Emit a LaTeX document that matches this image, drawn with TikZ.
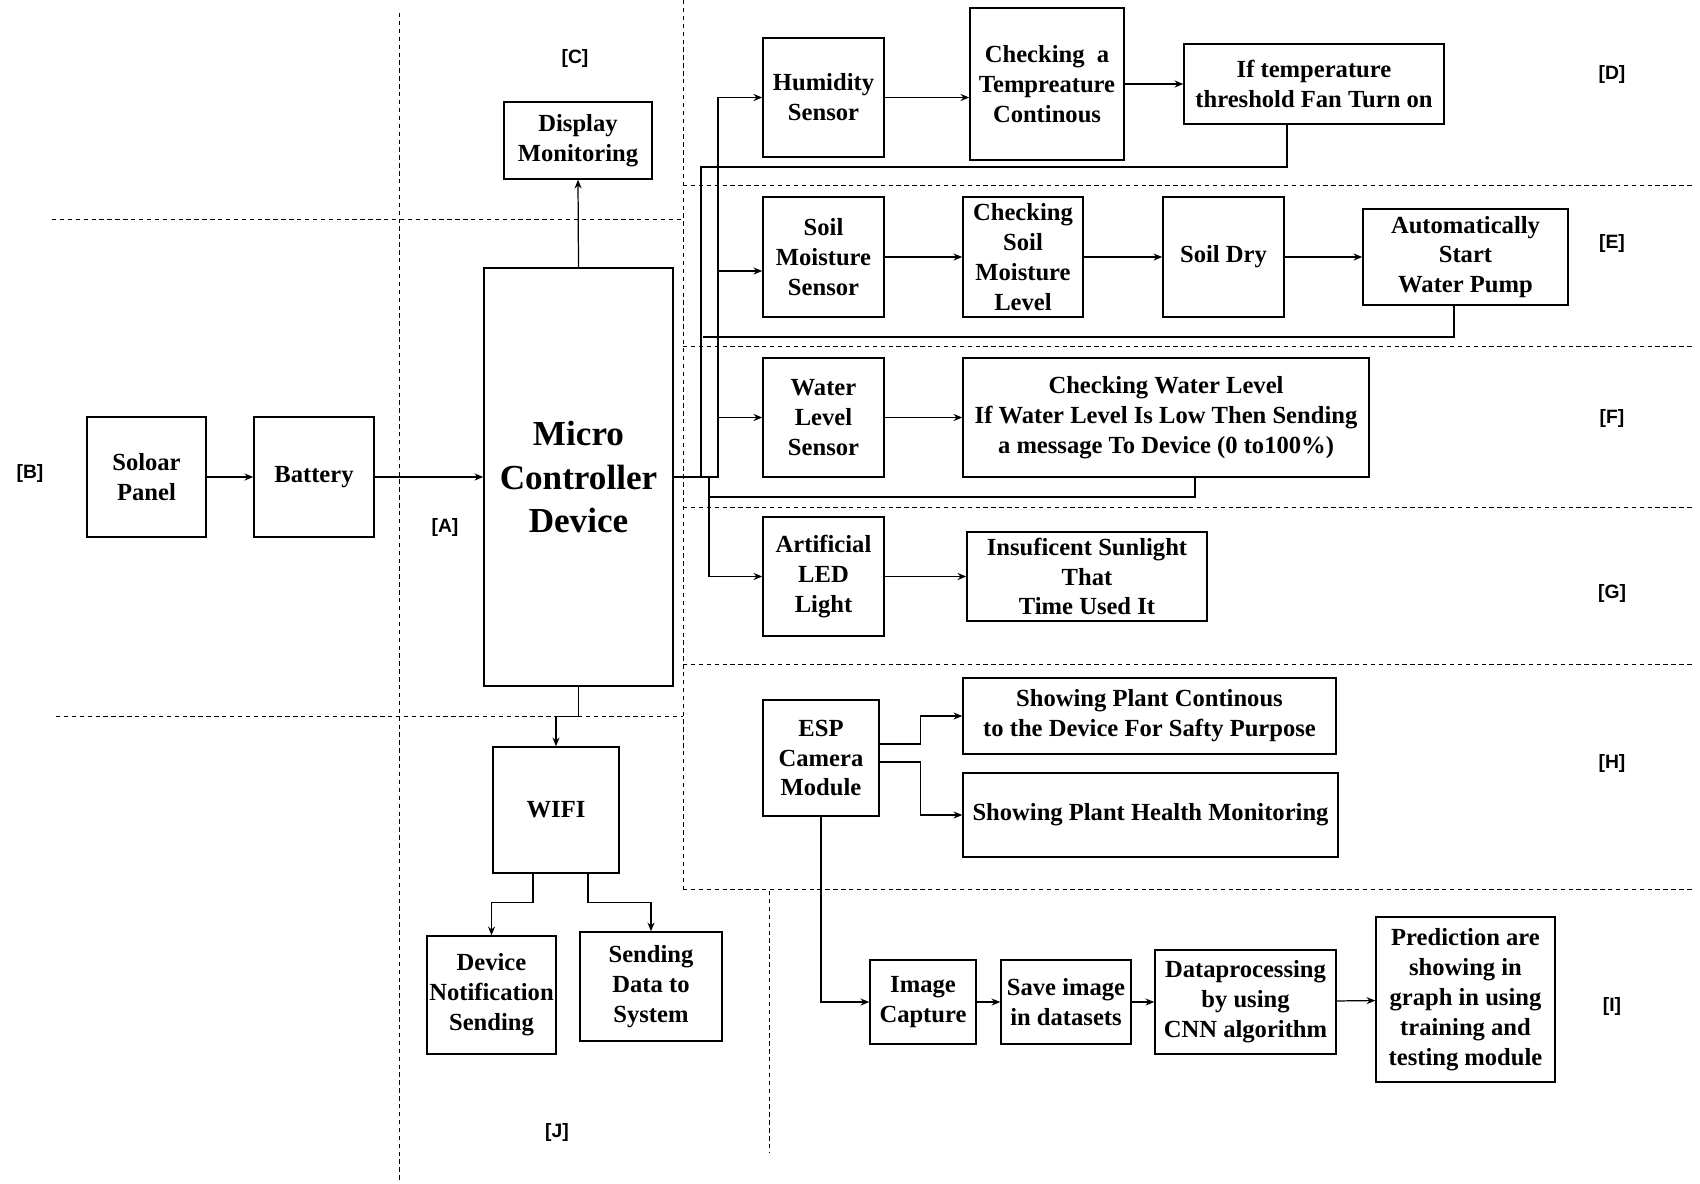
\documentclass[tikz,border=0pt]{standalone}
\usepackage{fontspec}
\setmainfont{Liberation Serif}
\newfontfamily\labfont{Liberation Sans}
\usetikzlibrary{arrows.meta}

\begin{document}
\begin{tikzpicture}[x=0.02cm, y=-0.02cm, >={Stealth[length=5pt,width=4pt]},
  blk/.style={draw, rectangle, line width=0.8pt, align=center, inner sep=1pt,
    font=\fontsize{14}{17}\selectfont\bfseries},
  lnk/.style={line width=0.7pt},
  sep/.style={line width=0.5pt, dash pattern=on 2.5pt off 2pt},
  tag/.style={font=\labfont\fontsize{11}{13}\selectfont\bfseries}]
\useasboundingbox (0,0) rectangle (1700,1183);

% Section separators
\draw[sep] (399,13) -- (399,1180);
\draw[sep] (683,0) -- (683,889);
\draw[sep] (769,891) -- (769,1153);
\draw[sep] (52,219) -- (683,219);
\draw[sep] (56,716) -- (683,716);
\foreach \yy in {185,346,507,664,889}
  \draw[sep] (683,\yy) -- (1694,\yy);

% Power and controller
\node[blk, minimum width=2.38cm, minimum height=2.4cm] (solar) at (146.5,477) {Soloar\\Panel};
\node[blk, minimum width=2.4cm, minimum height=2.4cm] (battery) at (314,477) {Battery};
\node[blk, minimum width=3.78cm, minimum height=8.36cm,
  font=\fontsize{20}{24.5}\selectfont\bfseries] (mcu) at (578.5,477) {Micro\\Controller\\Device};
\node[blk, minimum width=2.96cm, minimum height=1.54cm] (display) at (578,140.5) {Display\\Monitoring};

% Wifi block
\node[blk, minimum width=2.52cm, minimum height=2.52cm] (wifi) at (556,810) {WIFI};
\node[blk, minimum width=2.58cm, minimum height=2.36cm] (notify) at (491.5,995) {Device\\Notification\\Sending};
\node[blk, minimum width=2.84cm, minimum height=2.18cm] (senddata) at (651,986.5) {Sending\\Data to\\System};

% Temperature
\node[blk, minimum width=2.42cm, minimum height=2.38cm] (humid) at (823.5,97.5) {Humidity\\Sensor};
\node[blk, minimum width=3.08cm, minimum height=3.04cm] (chktemp) at (1047,84) {Checking~~a\\Tempreature\\Continous};
\node[blk, minimum width=5.2cm, minimum height=1.6cm] (fanon) at (1314,84) {If temperature\\threshold Fan Turn on};

% Soil moisture
\node[blk, minimum width=2.42cm, minimum height=2.4cm] (soilsens) at (823.5,257) {Soil\\Moisture\\Sensor};
\node[blk, minimum width=2.4cm, minimum height=2.4cm] (chksoil) at (1023,257) {Checking\\Soil\\Moisture\\Level};
\node[blk, minimum width=2.42cm, minimum height=2.4cm] (soildry) at (1223.5,257) {Soil Dry};
\node[blk, minimum width=4.1cm, minimum height=1.92cm] (pump) at (1465.5,257) {Automatically\\Start\\Water Pump};

% Water level
\node[blk, minimum width=2.42cm, minimum height=2.38cm] (watersens) at (823.5,417.5) {Water\\Level\\Sensor};
\node[blk, minimum width=8.12cm, minimum height=2.38cm] (chkwater) at (1166,417.5) {Checking Water Level\\If Water Level Is Low Then Sending\\a message To Device (0 to100\%)};

% Light
\node[blk, minimum width=2.42cm, minimum height=2.38cm] (led) at (823.5,576.5) {Artificial\\LED\\Light};
\node[blk, minimum width=4.8cm, minimum height=1.78cm] (sunlight) at (1087,576.5) {Insuficent Sunlight\\That\\Time Used It};

% Camera
\node[blk, minimum width=2.32cm, minimum height=2.32cm] (esp) at (821,758) {ESP\\Camera\\Module};
\node[blk, minimum width=7.46cm, minimum height=1.52cm] (plantcont) at (1149.5,716) {Showing Plant Continous\\to the Device For Safty Purpose};
\node[blk, minimum width=7.5cm, minimum height=1.68cm] (planthealth) at (1150.5,815) {Showing Plant Health Monitoring};
\node[blk, minimum width=2.12cm, minimum height=1.68cm] (capture) at (923,1002) {Image\\Capture};
\node[blk, minimum width=2.6cm, minimum height=1.68cm] (saveimg) at (1066,1002) {Save image\\in datasets};
\node[blk, minimum width=3.62cm, minimum height=2.08cm] (cnn) at (1245.5,1002) {Dataprocessing\\by using\\CNN algorithm};
\node[blk, minimum width=3.58cm, minimum height=3.3cm] (predict) at (1465.5,999.5) {Prediction are\\showing in\\graph in using\\training and\\testing module};

% Junctions
\coordinate (tr1) at (718,477);
\coordinate (tr2) at (709,477);
\coordinate (fb1) at (701,167);
\coordinate (fb2) at (703,337);
\coordinate (fb3) at (709,497);

% Arrows
\draw[lnk,->] (solar) -- (battery);
\draw[lnk,->] (battery) -- (mcu);
\draw[lnk,->] (mcu.north) -- (display.south);
\draw[lnk,->] (mcu.south) -- ++(0,30) -| (wifi.north);
\draw[lnk,->] ([xshift=-0.46cm]wifi.south) -- ++(0,29) -| (notify.north);
\draw[lnk,->] ([xshift=0.64cm]wifi.south) -- ++(0,29) -| (senddata.north);

\draw[lnk,->] (mcu.east) -- (tr1) |- (humid.west);
\draw[lnk,->] (tr1) |- ([yshift=-0.28cm]soilsens.west);
\draw[lnk,->] (tr1) |- (watersens.west);
\draw[lnk,->] (tr2) |- (led.west);

\draw[lnk,->] (humid) -- (humid -| chktemp.west);
\draw[lnk,->] (chktemp) -- (fanon);
\draw[lnk,->] (soilsens) -- (chksoil);
\draw[lnk,->] (chksoil) -- (soildry);
\draw[lnk,->] (soildry) -- (pump);
\draw[lnk,->] (watersens) -- (chkwater);
\draw[lnk,->] (led) -- (sunlight);

% Feedback lines
\draw[lnk] ([xshift=-0.54cm]fanon.south) |- (fb1) -- (fb1 |- mcu.east);
\draw[lnk] ([xshift=-0.23cm]pump.south) |- (fb2);
\draw[lnk] ([xshift=0.58cm]chkwater.south) |- (fb3);

\draw[lnk,->] ([yshift=0.28cm]esp.east) -- ++(41,0) |- (plantcont.west);
\draw[lnk,->] ([yshift=-0.08cm]esp.east) -- ++(41,0) |- (planthealth.west);
\draw[lnk,->] (esp.south) |- (capture.west);
\draw[lnk,->] (capture) -- (saveimg);
\draw[lnk,->] (saveimg) -- (cnn);
\draw[lnk,->] (cnn) -- (predict);

% Labels
\node[tag] (tA) at (445,527) {[A]};
\node[tag] (tB) at (30,473) {[B]};
\node[tag] (tC) at (575,59) {[C]};
\node[tag] (tD) at (1612,75) {[D]};
\node[tag] (tE) at (1612,244) {[E]};
\node[tag] (tF) at (1612,418) {[F]};
\node[tag] (tG) at (1612,593) {[G]};
\node[tag] (tH) at (1612,763) {[H]};
\node[tag] (tI) at (1612,1006) {[I]};
\node[tag] (tJ) at (557,1132) {[J]};

\end{tikzpicture}
\end{document}
